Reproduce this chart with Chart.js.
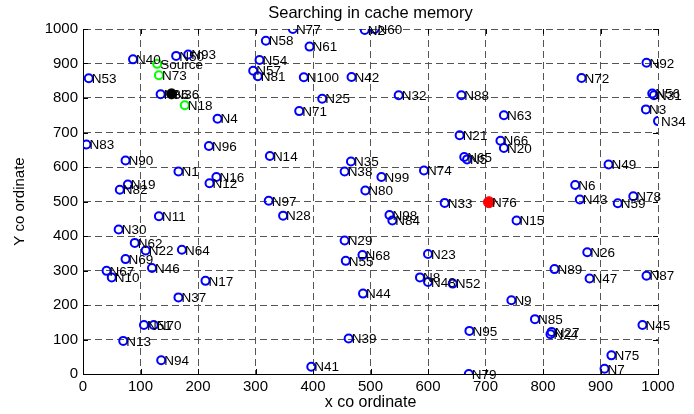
<!DOCTYPE html>
<html>
<head>
<meta charset="utf-8">
<script src="https://cdn.jsdelivr.net/npm/chart.js@4.4.0/dist/chart.umd.min.js"></script>
<style>
html,body{margin:0;padding:0;background:#fff;}
#c{display:block;}
</style>
</head>
<body>
<canvas id="c" width="694" height="414"></canvas>
<script>
// ---- data ----
const blueNames = ["N40","N50","N93","N53","N86","N4","N83","N96","N58","N54","N57","N81","N77","N61","N2","N60","N100","N42","N25","N32","N71","N88","N21","N92","N72","N56","N31","N63","N3","N34","N66","N20","N65","N5","N90","N1","N16","N12","N19","N82","N11","N30","N62","N22","N64","N69","N14","N35","N38","N99","N74","N80","N97","N28","N98","N84","N33","N29","N68","N55","N23","N49","N6","N43","N59","N78","N15","N26","N67","N10","N46","N17","N37","N51","N70","N13","N94","N8","N48","N52","N44","N39","N41","N89","N47","N87","N9","N85","N27","N24","N95","N45","N75","N7","N79"];
const blueX = [87,162,183,10,135,234,6,219,318,307,296,304,365,394,490,507,384,467,416,549,376,658,655,980,867,990,993,732,979,1000,726,732,663,668,74,166,232,220,78,64,132,62,90,109,172,74,325,466,455,519,593,491,323,348,533,538,629,455,486,457,600,914,856,864,930,957,754,877,41,50,120,213,166,106,123,70,136,586,600,643,487,462,397,820,881,980,745,786,815,813,672,973,919,907,671];
const blueY = [912,922,926,857,811,740,665,661,966,910,879,863,1000,949,997,1000,860,861,798,808,762,808,692,902,858,813,808,750,767,733,676,655,629,622,619,587,571,553,549,534,457,419,380,358,360,333,632,616,587,571,590,532,502,459,461,445,496,387,345,328,348,607,548,506,495,515,445,353,299,280,307,270,222,142,142,96,40,280,267,262,233,103,21,304,277,285,214,159,122,115,125,142,54,15,0];

const greenNames = ["Source","N73","N18"];
const greenX = [129,132,177];
const greenY = [899,866,779];

const redNames = ["N76"];
const redX = [706];
const redY = [498];

const blackNames = ["N36"];
const blackX = [154];
const blackY = [812];

const xTicks = [0,100,200,300,400,500,600,700,800,900,1000];
const yTicks = [0,100,200,300,400,500,600,700,800,900,1000];

const titleText = "Searching in cache memory";
const xTitle = "x co ordinate";
const yTitle = "Y co ordinate";

// ---- build ----
const FONT = "'Liberation Sans', Arial, Helvetica, sans-serif";
function pts(xs, ys){ return xs.map((x,i)=>({x:x, y:ys[i]})); }

const labelPlugin = {
  id: 'nodeLabels',
  afterDatasetsDraw(chart){
    const ctx = chart.ctx;
    ctx.save();
    ctx.font = "13.5px " + FONT;
    ctx.fillStyle = "#000";
    ctx.textBaseline = "middle";
    ctx.textAlign = "left";
    chart.data.datasets.forEach((ds, di)=>{
      const meta = chart.getDatasetMeta(di);
      meta.data.forEach((el, i)=>{
        ctx.fillText(ds.names[i], el.x + 3, el.y + 1);
      });
    });
    ctx.restore();
  }
};

const frameTicks = {
  id: 'frameTicks',
  afterDatasetsDraw(chart){
    const {ctx, chartArea:a, scales:{x, y}} = chart;
    ctx.save();
    ctx.strokeStyle = "#000";
    ctx.lineWidth = 1;
    ctx.beginPath();
    xTicks.forEach(v=>{
      const px = Math.round(x.getPixelForValue(v)) + 0.5;
      ctx.moveTo(px, a.bottom); ctx.lineTo(px, a.bottom - 5);
      ctx.moveTo(px, a.top); ctx.lineTo(px, a.top + 5);
    });
    yTicks.forEach(v=>{
      const py = Math.round(y.getPixelForValue(v)) + 0.5;
      ctx.moveTo(a.left, py); ctx.lineTo(a.left + 5, py);
      ctx.moveTo(a.right, py); ctx.lineTo(a.right - 5, py);
    });
    ctx.stroke();
    ctx.restore();
  }
};

const titlePlugin = {
  id: 'topTitle',
  afterDraw(chart){
    const ctx = chart.ctx;
    const a = chart.chartArea;
    ctx.save();
    ctx.font = "16.5px " + FONT;
    ctx.fillStyle = "#000";
    ctx.textAlign = "center";
    ctx.textBaseline = "middle";
    ctx.fillText(titleText, (a.left + a.right)/2, 13);
    ctx.restore();
  }
};

const plainTick = v => String(v);

new Chart(document.getElementById('c'), {
  type: 'scatter',
  data: {
    datasets: [
      {names: blueNames, data: pts(blueX, blueY), pointStyle:'circle', pointRadius:4, borderWidth:2, borderColor:'#0000ff', backgroundColor:'rgba(0,0,0,0)'},
      {names: greenNames, data: pts(greenX, greenY), pointStyle:'circle', pointRadius:4, borderWidth:2, borderColor:'#00ff00', backgroundColor:'rgba(0,0,0,0)'},
      {names: redNames, data: pts(redX, redY), pointStyle:'circle', pointRadius:5.5, borderWidth:1, borderColor:'#ff0000', backgroundColor:'#ff0000'},
      {names: blackNames, data: pts(blackX, blackY), pointStyle:'circle', pointRadius:5, borderWidth:1, borderColor:'#000', backgroundColor:'#000'}
    ]
  },
  options: {
    responsive: false,
    animation: false,
    devicePixelRatio: 1,
    layout: {padding: {top: 29, right: 36, left: 0, bottom: 0}},
    plugins: {legend:{display:false}, tooltip:{enabled:false}, title:{display:false}},
    scales: {
      x: {
        type:'linear', min:0, max:1000,
        afterBuildTicks(s){ s.ticks = xTicks.map(v=>({value:v})); },
        afterFit(s){ s.height = 40; },
        ticks:{font:{family:FONT, size:15}, color:'#000', padding:4, maxRotation:0, callback: plainTick},
        grid:{color:'#555', lineWidth:1, drawTicks:false},
        border:{display:true, color:'#000', width:1, dash:[7,4]},
        title:{display:true, text:xTitle, color:'#000', font:{family:FONT, size:16}, padding:{top:0, bottom:2}}
      },
      y: {
        type:'linear', min:0, max:1000,
        afterBuildTicks(s){ s.ticks = yTicks.map(v=>({value:v})); },
        afterFit(s){ s.width = 83; },
        ticks:{font:{family:FONT, size:15}, color:'#000', padding:5, callback: plainTick},
        grid:{color:'#555', lineWidth:1, drawTicks:false},
        border:{display:true, color:'#000', width:1, dash:[7,4]},
        title:{display:true, text:yTitle, color:'#000', font:{family:FONT, size:15}, padding:{top:11, bottom:0}}
      }
    }
  },
  plugins: [labelPlugin, frameTicks, titlePlugin]
});
</script>
</body>
</html>
